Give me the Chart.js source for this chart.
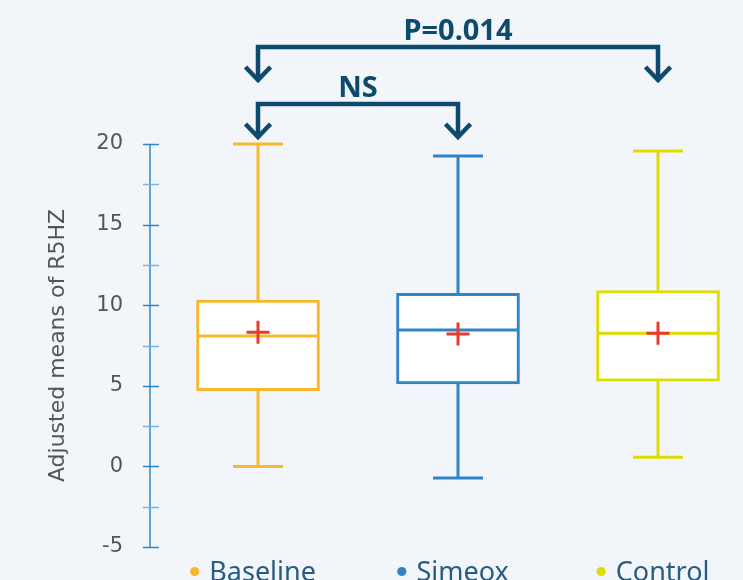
<!DOCTYPE html>
<html>
<head>
<meta charset="utf-8">
<title>Adjusted means of R5HZ</title>
<script src="https://cdn.jsdelivr.net/npm/chart.js@4.4.1/dist/chart.umd.min.js"></script>
<style>
  html, body { margin: 0; padding: 0; background: #F2F6FB; }
  #wrap { width: 743px; height: 580px; position: relative; }
</style>
</head>
<body>
<div id="wrap"><canvas id="chart" width="743" height="580"></canvas></div>
<script>
// Groups and their box-plot statistics
const groups      = ['Baseline', 'Simeox', 'Control'];
const groupColors = ['#F7B92B', '#2F84C6', '#DEDC00'];
const whiskerLow  = [0.0, -0.72, 0.56];
const quartile1   = [4.70, 5.11, 5.28];
const medians     = [8.09, 8.46, 8.26];
const quartile3   = [10.32, 10.74, 10.90];
const whiskerHigh = [20.0, 19.26, 19.57];
const means       = [8.32, 8.21, 8.26];

// Y axis ticks (labelled every 5, minor marks every 2.5)
const yMin = -5, yMax = 20, yStep = 2.5, yLabelEvery = 5;

// Pairwise comparisons shown above the boxes
const compareFrom   = [0, 0];
const compareTo     = [2, 1];
const compareLabels = ['P=0.014', 'NS'];

const NAVY = '#0D4A6E';
const FONT = '"Noto Sans", "Open Sans", sans-serif';
const AXIS_FONT = '"DejaVu Sans", "Noto Sans", sans-serif';

const boxData  = groups.map((g, i) => ({ x: i, y: [quartile1[i], quartile3[i]] }));
const meanData = groups.map((g, i) => ({ x: i, y: means[i] }));

// Whiskers behind the boxes, medians on top of them, axis + labels + brackets last
const boxPlotPlugin = {
  id: 'boxPlotExtras',
  beforeDatasetsDraw(chart) {
    const { ctx, scales: { x, y } } = chart;
    ctx.save();
    ctx.lineWidth = 3;
    groups.forEach((g, i) => {
      const cx = x.getPixelForValue(i);
      const lo = y.getPixelForValue(whiskerLow[i]);
      const hi = y.getPixelForValue(whiskerHigh[i]);
      ctx.strokeStyle = groupColors[i];
      ctx.beginPath();
      ctx.moveTo(cx, lo); ctx.lineTo(cx, hi);
      ctx.moveTo(cx - 25, lo); ctx.lineTo(cx + 25, lo);
      ctx.moveTo(cx - 25, hi); ctx.lineTo(cx + 25, hi);
      ctx.stroke();
    });
    ctx.restore();
  },
  afterDatasetDraw(chart, args) {
    if (args.index !== 0) return;
    const { ctx, scales: { x, y } } = chart;
    const half = 61.5;
    ctx.save();
    ctx.lineWidth = 3;
    groups.forEach((g, i) => {
      const cx = x.getPixelForValue(i);
      const my = y.getPixelForValue(medians[i]);
      ctx.strokeStyle = groupColors[i];
      ctx.beginPath();
      ctx.moveTo(cx - half + 1.5, my); ctx.lineTo(cx + half - 1.5, my);
      ctx.stroke();
    });
    ctx.restore();
  },
  afterDraw(chart) {
    const { ctx, chartArea, scales: { x, y } } = chart;
    ctx.save();

    // Y axis line with ticks crossing it
    const ax = chartArea.left;
    ctx.lineWidth = 1.5;
    ctx.strokeStyle = '#2E86C8';
    ctx.beginPath();
    ctx.moveTo(ax, y.getPixelForValue(yMax));
    ctx.lineTo(ax, y.getPixelForValue(yMin));
    ctx.stroke();
    for (let v = yMin; v <= yMax + 1e-9; v += yStep) {
      const py = Math.round(y.getPixelForValue(v)) + 0.5;
      ctx.strokeStyle = (Math.abs(v % yLabelEvery) < 1e-9) ? '#2E86C8' : '#7FB3DE';
      ctx.beginPath();
      ctx.moveTo(ax - 7, py); ctx.lineTo(ax + 9, py);
      ctx.stroke();
    }

    // Category labels with coloured dots
    ctx.font = '27px ' + FONT;
    ctx.textBaseline = 'alphabetic';
    ctx.textAlign = 'left';
    groups.forEach((g, i) => {
      const cx = x.getPixelForValue(i);
      const tw = ctx.measureText(g).width;
      const dotR = 4.6, gap = 10;
      const total = dotR * 2 + gap + tw;
      const start = cx - 5 - total / 2;
      ctx.fillStyle = groupColors[i];
      ctx.beginPath();
      ctx.arc(start + dotR, 571.5, dotR, 0, Math.PI * 2);
      ctx.fill();
      ctx.fillStyle = '#2A5C80';
      ctx.fillText(g, start + dotR * 2 + gap, 581);
    });

    // Comparison brackets with arrow heads
    const levels = [47, 104];
    ctx.strokeStyle = NAVY;
    ctx.fillStyle = NAVY;
    ctx.lineWidth = 4.5;
    ctx.lineCap = 'butt';
    ctx.lineJoin = 'miter';
    compareLabels.forEach((lab, k) => {
      const x1 = x.getPixelForValue(compareFrom[k]);
      const x2 = x.getPixelForValue(compareTo[k]);
      const ly = levels[k];
      const tip = ly + 33;
      ctx.beginPath();
      ctx.moveTo(x1, tip - 2);
      ctx.lineTo(x1, ly);
      ctx.lineTo(x2, ly);
      ctx.lineTo(x2, tip - 2);
      ctx.stroke();
      [x1, x2].forEach(px => {
        ctx.beginPath();
        ctx.moveTo(px - 12.5, tip - 13);
        ctx.lineTo(px, tip);
        ctx.lineTo(px + 12.5, tip - 13);
        ctx.stroke();
      });
      ctx.font = 'bold 29px ' + FONT;
      ctx.textAlign = 'center';
      ctx.textBaseline = 'alphabetic';
      ctx.fillText(lab, (x1 + x2) / 2, ly - 7);
    });

    ctx.restore();
  }
};

new Chart(document.getElementById('chart'), {
  type: 'bar',
  data: {
    datasets: [
      {
        type: 'bar',
        label: 'Interquartile range',
        data: boxData,
        backgroundColor: '#FFFFFF',
        borderColor: groupColors,
        borderWidth: 3,
        borderSkipped: false,
        barThickness: 123,
        order: 2
      },
      {
        type: 'scatter',
        label: 'Mean',
        data: meanData,
        pointStyle: 'cross',
        pointRadius: 11.5,
        pointHoverRadius: 11.5,
        borderColor: '#E63B2E',
        borderWidth: 3,
        order: 1
      }
    ]
  },
  plugins: [boxPlotPlugin],
  options: {
    responsive: false,
    animation: false,
    events: [],
    layout: { autoPadding: false, padding: { top: 144, bottom: 33, left: 0, right: 0 } },
    plugins: { legend: { display: false }, tooltip: { enabled: false } },
    scales: {
      x: {
        type: 'linear',
        display: false,
        offset: false,
        min: -0.54,
        max: 2.425
      },
      y: {
        type: 'linear',
        min: yMin,
        max: yMax,
        border: { display: false },
        grid: { display: false, drawTicks: false },
        ticks: {
          stepSize: yStep,
          padding: 27,
          color: '#555555',
          font: { family: AXIS_FONT, size: 21 },
          callback: v => (Math.abs(v % yLabelEvery) < 1e-9 ? String(v) : '')
        },
        title: {
          display: true,
          text: 'Adjusted means of R5HZ',
          color: '#555555',
          font: { family: AXIS_FONT, size: 22 },
          padding: { top: 45, bottom: 0 }
        },
        afterFit(scale) {
          scale.width = 150;
          scale.paddingTop = 0;
          scale.paddingBottom = 0;
        }
      }
    }
  }
});
</script>
</body>
</html>
